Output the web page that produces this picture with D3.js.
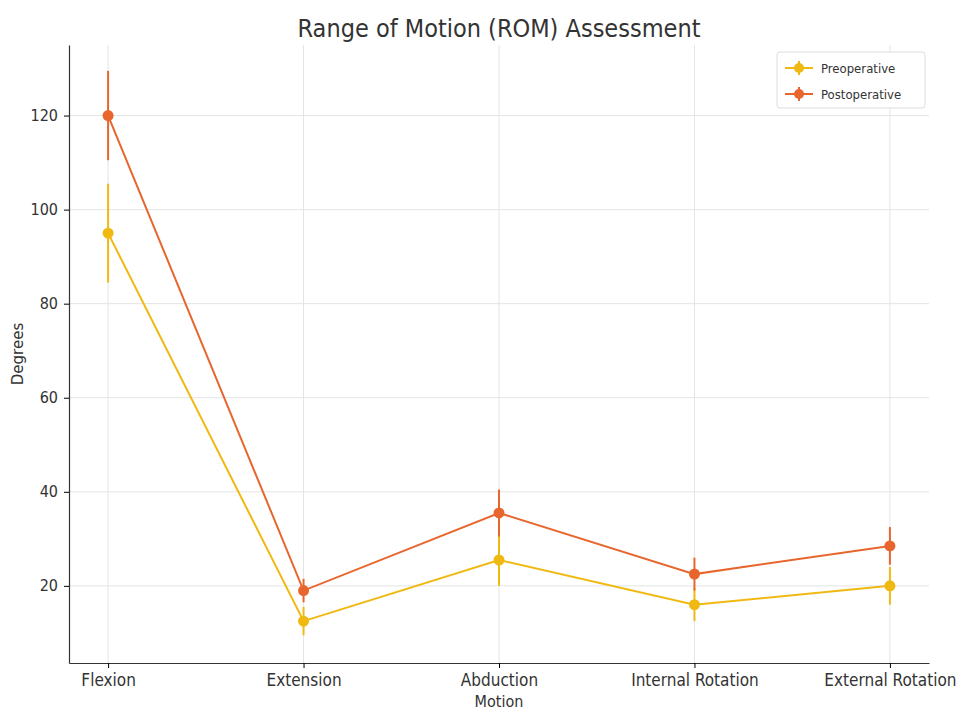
<!DOCTYPE html>
<html>
<head>
<meta charset="utf-8">
<script src="https://cdn.jsdelivr.net/npm/d3@7"></script>
<style>
  body { margin: 0; background: #fff; }
  text { font-family: "DejaVu Sans Condensed", "Liberation Sans Narrow", "DejaVu Sans", sans-serif; }
</style>
</head>
<body>
<script>
const motions = ["Flexion", "Extension", "Abduction", "Internal Rotation", "External Rotation"];
const preop = [95, 12.5, 25.5, 16, 20];
const preopErr = [10.5, 3, 5.5, 3.5, 4];
const postop = [120, 19, 35.5, 22.5, 28.5];
const postopErr = [9.5, 2.5, 5, 3.5, 4];
const yTicks = [20, 40, 60, 80, 100, 120];

const width = 961;
const height = 713;
const margin = { top: 45, right: 32, bottom: 50, left: 69 };

const svg = d3.select('body')
  .append('svg')
  .attr('width', width)
  .attr('height', height);

const x = d3.scalePoint()
  .domain(motions)
  .range([margin.left, width - margin.right])
  .padding(0.2);

const y = d3.scaleLinear()
  .domain([3.6, 135])
  .range([height - margin.bottom, margin.top]);

// grid
svg.append('g')
  .selectAll('line')
  .data(yTicks)
  .join('line')
  .attr('x1', margin.left)
  .attr('x2', width - margin.right)
  .attr('y1', d => y(d))
  .attr('y2', d => y(d))
  .attr('stroke', '#e4e4e4')
  .attr('stroke-width', 1);

svg.append('g')
  .selectAll('line')
  .data(motions)
  .join('line')
  .attr('x1', d => x(d))
  .attr('x2', d => x(d))
  .attr('y1', margin.top)
  .attr('y2', height - margin.bottom)
  .attr('stroke', '#e4e4e4')
  .attr('stroke-width', 1);

// axes
svg.append('g')
  .attr('transform', 'translate(0,' + (height - margin.bottom) + ')')
  .call(d3.axisBottom(x).tickSize(5).tickPadding(6).tickSizeOuter(0))
  .call(g => g.selectAll('text').style('font-size', '17px').attr('fill', '#333'))
  .call(g => g.select('.domain').attr('stroke', '#333').attr('stroke-width', 1.2));

svg.append('g')
  .attr('transform', 'translate(' + margin.left + ',0)')
  .call(d3.axisLeft(y).tickValues(yTicks).tickSize(5).tickPadding(6).tickSizeOuter(0))
  .call(g => g.selectAll('text').style('font-size', '16px').attr('fill', '#333'))
  .call(g => g.select('.domain').attr('stroke', '#333').attr('stroke-width', 1.2));

// series
const series = [
  { name: 'Preoperative', values: preop, err: preopErr, color: '#f0b912' },
  { name: 'Postoperative', values: postop, err: postopErr, color: '#e8662e' }
];

series.forEach(s => {
  const pts = motions.map((m, i) => ({ m: m, v: s.values[i], e: s.err[i] }));

  svg.append('g')
    .selectAll('line')
    .data(pts)
    .join('line')
    .attr('x1', d => x(d.m))
    .attr('x2', d => x(d.m))
    .attr('y1', d => y(d.v - d.e))
    .attr('y2', d => y(d.v + d.e))
    .attr('stroke', s.color)
    .attr('stroke-width', 2);

  svg.append('path')
    .datum(pts)
    .attr('fill', 'none')
    .attr('stroke', s.color)
    .attr('stroke-width', 2)
    .attr('d', d3.line().x(d => x(d.m)).y(d => y(d.v)));

  svg.append('g')
    .selectAll('circle')
    .data(pts)
    .join('circle')
    .attr('cx', d => x(d.m))
    .attr('cy', d => y(d.v))
    .attr('r', 5.5)
    .attr('fill', s.color);
});

// title and axis labels
svg.append('text')
  .attr('x', (margin.left + width - margin.right) / 2)
  .attr('y', 37)
  .attr('text-anchor', 'middle')
  .style('font-size', '25px')
  .attr('fill', '#333')
  .text('Range of Motion (ROM) Assessment');

svg.append('text')
  .attr('x', (margin.left + width - margin.right) / 2)
  .attr('y', 707)
  .attr('text-anchor', 'middle')
  .style('font-size', '16px')
  .attr('fill', '#333')
  .text('Motion');

svg.append('text')
  .attr('transform', 'translate(23,' + ((margin.top + height - margin.bottom) / 2) + ') rotate(-90)')
  .attr('text-anchor', 'middle')
  .style('font-size', '15px')
  .style('font-family', '"DejaVu Sans", sans-serif')
  .attr('fill', '#333')
  .text('Degrees');

// legend
const legend = svg.append('g').attr('transform', 'translate(777,52)');
legend.append('rect')
  .attr('width', 148)
  .attr('height', 56)
  .attr('rx', 3)
  .attr('fill', '#fff')
  .attr('stroke', '#ddd');

series.forEach((s, i) => {
  const row = legend.append('g').attr('transform', 'translate(0,' + (16 + i * 26) + ')');
  row.append('line').attr('x1', 8).attr('x2', 36).attr('stroke', s.color).attr('stroke-width', 2);
  row.append('line').attr('x1', 22).attr('x2', 22).attr('y1', -7).attr('y2', 7).attr('stroke', s.color).attr('stroke-width', 2);
  row.append('circle').attr('cx', 22).attr('r', 5).attr('fill', s.color);
  row.append('text')
    .attr('x', 44)
    .attr('dy', '0.35em')
    .style('font-size', '13px')
    .attr('fill', '#333')
    .text(s.name);
});
</script>
</body>
</html>
